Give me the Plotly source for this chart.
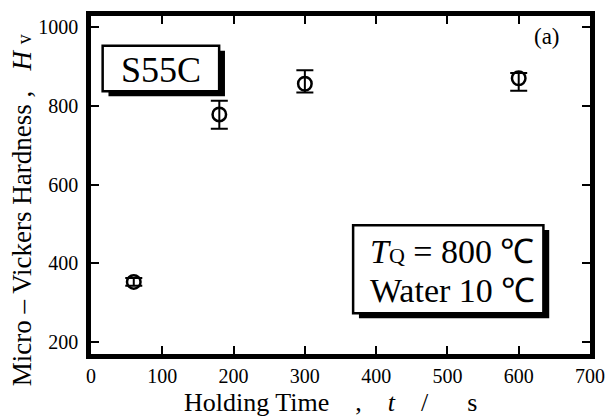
import plotly.graph_objects as go

# Data
holding_time = [60, 180, 300, 600]
hardness = [353, 778, 856, 870]
err_plus = [10, 35, 34, 13]
err_minus = [10, 36, 22, 32]

x_ticks = [0, 100, 200, 300, 400, 500, 600, 700]
y_ticks = [200, 400, 600, 800, 1000]

W, H = 616, 417
L, R, T, B = 91, 11, 13, 63
PW, PH = W - L - R, H - T - B

def px(x):
    return (x - L) / PW

def py(y):
    return (H - B - y) / PH

FONT = "Liberation Serif"

fig = go.Figure()
fig.add_trace(go.Scatter(
    x=holding_time, y=hardness, mode="markers",
    marker=dict(symbol="circle-open", size=13.5, color="black", line=dict(width=2.5)),
    error_y=dict(type="data", symmetric=False, array=err_plus, arrayminus=err_minus,
                 color="black", thickness=2, width=8.5),
    showlegend=False,
))

axis_common = dict(
    showline=True, linecolor="black", linewidth=4.5, mirror="ticks",
    ticks="inside", ticklen=8, tickwidth=2, tickcolor="black",
    showgrid=False, zeroline=False,
    tickfont=dict(family=FONT, size=20, color="black"),
)

fig.update_xaxes(range=[0, 700], tickvals=x_ticks, ticklabelstandoff=0, **axis_common)
fig.update_yaxes(range=[170, 1028], tickvals=y_ticks, ticklabelstandoff=4, **axis_common)

shapes = []
# S55C box with shadow
sx0, sx1, sy0, sy1 = 103, 223, 43, 89
shapes.append(dict(type="rect", xref="paper", yref="paper",
                   x0=px(sx0 + 6), x1=px(sx1 + 6), y0=py(sy1 + 5), y1=py(sy0 + 5),
                   fillcolor="black", line=dict(color="black", width=0)))
shapes.append(dict(type="rect", xref="paper", yref="paper",
                   x0=px(sx0), x1=px(sx1), y0=py(sy1), y1=py(sy0),
                   fillcolor="white", line=dict(color="black", width=2.5)))
# Condition box with shadow
tx0, tx1, ty0, ty1 = 361, 557, 224, 313
shapes.append(dict(type="rect", xref="paper", yref="paper",
                   x0=px(tx0 + 6), x1=px(tx1 + 6), y0=py(ty1 + 5), y1=py(ty0 + 5),
                   fillcolor="black", line=dict(color="black", width=0)))
shapes.append(dict(type="rect", xref="paper", yref="paper",
                   x0=px(tx0), x1=px(tx1), y0=py(ty1), y1=py(ty0),
                   fillcolor="white", line=dict(color="black", width=2.5)))

def ann(text, x, y, size, **kw):
    d = dict(text=text, xref="paper", yref="paper", x=px(x), y=py(y),
             showarrow=False, font=dict(family=FONT, size=size, color="black"),
             xanchor="center", yanchor="middle")
    d.update(kw)
    return d

annotations = [
    ann("S55C", (sx0 + sx1) / 2, 67, 36),
    ann("<i>T</i><span style='font-size:22px'>Q</span> = 800 \u2103", 463, 251, 34),
    ann("Water 10 \u2103", 463, 290, 34),
    ann("(a)", 561, 34, 23),
    ann("Holding Time\u2003,\u2003<i>t</i>\u2003/\u2003\u2002s", 338, 403, 26),
    ann("Micro \u2013 Vickers Hardness , \u2002<i>H</i> <span style='font-size:20px'>v</span>",
        20, 209, 27, textangle=-90),
]

fig.update_layout(
    width=W, height=H,
    margin=dict(l=L, r=R, t=T, b=B),
    paper_bgcolor="white", plot_bgcolor="white",
    shapes=shapes, annotations=annotations,
    font=dict(family=FONT, color="black"),
)

fig.write_html("out.html")
